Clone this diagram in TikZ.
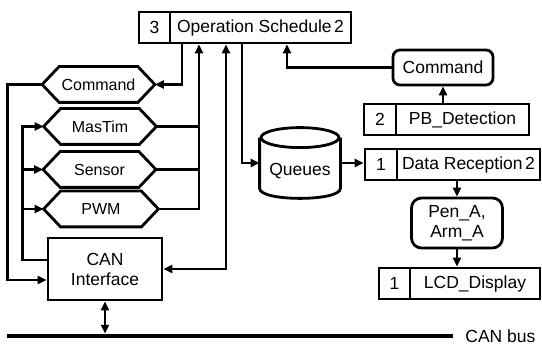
\documentclass[tikz,border=0pt]{standalone}
\usepackage{fontspec}
\setmainfont{Liberation Sans}
\usetikzlibrary{arrows.meta,calc}
\newcommand\hexdraw[1]{\draw (#1.west) -- ($(#1.north west)+(17,0)$) -- ($(#1.north east)+(-17,0)$) -- (#1.east) -- ($(#1.south east)+(-17,0)$) -- ($(#1.south west)+(17,0)$) -- cycle;}
\begin{document}
\begin{tikzpicture}[x=1pt,y=-1pt,line width=2.8pt,
  >={Triangle[length=9pt,width=8pt]},
  box/.style={draw,rectangle,inner sep=0pt,minimum height=31pt,font=\fontsize{17.5}{20}\selectfont},
  rbox/.style={draw,rectangle,rounded corners=7pt,inner sep=0pt,align=center,font=\fontsize{17.5}{20}\selectfont},
  hexa/.style={rectangle,inner sep=0pt,minimum width=110pt,minimum height=33pt,font=\fontsize{16}{19}\selectfont},
  lbl/.style={inner sep=0pt,font=\fontsize{17.5}{20}\selectfont}]
\useasboundingbox (0,0) rectangle (542,345);
% top block
\node[box,minimum width=31pt] (opn) at (154.5,27.5) {3};
\node[box,minimum width=181pt] (op) at (260.5,27.5) {Operation Schedule\hspace{2.5pt}2};
% right side
\node[rbox,minimum width=100pt,minimum height=35pt] (cmdR) at (443,67.5) {Command};
\node[box,minimum width=32pt] (pbn) at (380,119.5) {2};
\node[box,minimum width=133pt] (pb) at (462.5,119.5) {PB\_Detection};
\node[box,minimum width=32pt] (drn) at (381,164.5) {1};
\node[box,minimum width=143pt] (dr) at (468.5,164.5) {Data Reception\hspace{2.5pt}2};
\node[rbox,minimum width=91pt,minimum height=50pt,rounded corners=10pt] (pen) at (457,223) {Pen\_A,\\Arm\_A};
\node[box,minimum width=31pt] (lcdn) at (394.5,283.5) {1};
\node[box,minimum width=130pt] (lcd) at (475,283.5) {LCD\_Display};
% queues
\node[rectangle,inner sep=0pt,minimum width=78pt,minimum height=68pt] (queues) at (300,163) {};
\draw ($(queues.north)+(0,10)$) ellipse [x radius=39pt,y radius=10pt];
\draw ($(queues.north west)+(0,10)$) -- ($(queues.south west)+(0,-10)$) .. controls +(0,13.3) and +(0,13.3) .. ($(queues.south east)+(0,-10)$) -- ($(queues.north east)+(0,10)$);
\node[lbl] (queuesT) at (300,171) {Queues};
% hexagons
\node[hexa] (cmdH) at (98.5,84.5) {Command};
\node[hexa] (mas) at (100,126.5) {MasTim};
\node[hexa] (sen) at (99.5,169.5) {Sensor};
\node[hexa,minimum width=112pt] (pwm) at (101,209) {PWM};
\hexdraw{cmdH}
\hexdraw{mas}
\hexdraw{sen}
\hexdraw{pwm}
% CAN interface and bus
\node[box,minimum width=114pt,minimum height=62pt,align=center] (can) at (105,269) {CAN\\Interface};
\coordinate (busL) at (7,336);
\coordinate (busR) at (453,336);
\node[lbl,anchor=west] (buslbl) at (464,336) {CAN bus};
\draw[line width=4.5pt] (busL) -- (busR);
% x positions of the vertical connectors
\coordinate (xa) at (182,60);
\coordinate (xb) at (199,60);
\coordinate (xc) at (226,60);
\coordinate (xd) at (242,60);
\coordinate (xe) at (287,60);
% connectors
\draw[->] (op.south -| xa) |- (cmdH.east);
\draw[->] (cmdH.west) -| ($(can.west)+(-39,11)$) -- ($(can.west)+(0,11)$);
\draw[->] ($(can.west)+(0,-9)$) -| ($(mas.west)+(-21,0)$) -- (mas.west);
\draw[->] ($(sen.west)+(-21,0)$) -- (sen.west);
\draw[->] ($(pwm.west)+(-22,0)$) -- (pwm.west);
\draw[->] (pwm.east) -| (op.south -| xb);
\draw (mas.east) -- (mas.east -| xb);
\draw (sen.east) -- (sen.east -| xb);
\draw[<->] (can.east) -| (op.south -| xc);
\draw[->] (op.south -| xd) |- (queues.west);
\draw[->] (queues.east) -- (queues.east -| drn.west);
\draw[->] (dr.south -| pen.north) -- (pen.north);
\draw[->] (pen.south) -- (pen.south |- lcd.north);
\draw[->] (pb.north -| cmdR.south) -- (cmdR.south);
\draw[->] (cmdR.west) -| (op.south -| xe);
\draw[<->,shorten >=2.25pt] (can.south) -- (can.south |- busL);
\end{tikzpicture}
\end{document}
